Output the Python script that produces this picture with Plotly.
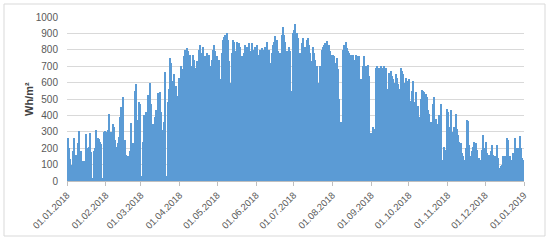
import datetime as dt
import plotly.graph_objects as go

# Daily irradiation values (Wh/m²), 2018, read month by month
jan = [265, 200, 135, 100, 180, 265, 150, 160, 230, 305, 185, 180, 125, 100, 120, 285,
       200, 205, 290, 175, 20, 180, 200, 310, 260, 255, 240, 225, 20, 300, 305]
feb = [300, 310, 410, 290, 300, 345, 330, 250, 210, 230, 270, 390, 450, 515, 240, 250,
       160, 150, 30, 180, 355, 230, 140, 550, 590, 370, 480, 470]
mar = [30, 240, 400, 330, 420, 525, 400, 600, 470, 350, 25, 390, 430, 535, 460, 545,
       420, 310, 360, 665, 30, 480, 560, 750, 720, 610, 655, 500, 580, 520, 630]
apr = [600, 700, 680, 760, 800, 810, 790, 730, 770, 700, 770, 740, 690, 730, 690, 800,
       830, 780, 820, 40, 760, 780, 740, 770, 700, 740, 800, 830, 790, 760]
may = [40, 740, 620, 780, 860, 880, 890, 900, 860, 730, 600, 780, 860, 850, 790, 850,
       840, 840, 820, 760, 40, 780, 830, 820, 800, 840, 790, 840, 800, 740, 820]
jun = [830, 680, 770, 800, 810, 790, 800, 820, 850, 40, 800, 720, 780, 830, 850, 885,
       860, 790, 40, 780, 890, 940, 890, 850, 790, 460, 820, 790, 550, 900]
jul = [920, 960, 900, 870, 360, 780, 840, 870, 40, 820, 860, 875, 830, 780, 730, 820,
       780, 740, 700, 600, 420, 700, 800, 820, 830, 840, 855, 800, 830, 790, 770]
aug = [770, 760, 720, 750, 680, 500, 360, 40, 800, 830, 845, 810, 790, 780, 770, 760,
       770, 740, 770, 760, 720, 760, 620, 420, 700, 760, 700, 690, 710, 640, 290]
sep = [280, 330, 320, 690, 700, 680, 690, 700, 650, 690, 700, 690, 540, 560, 660, 670,
       640, 620, 600, 650, 630, 590, 560, 690, 670, 650, 600, 630, 610, 490]
oct_ = [620, 490, 550, 610, 480, 540, 40, 460, 390, 500, 555, 550, 545, 530, 510, 430,
        410, 360, 350, 470, 515, 380, 260, 350, 400, 470, 30, 130, 210, 190, 440]
nov = [420, 330, 430, 300, 30, 330, 410, 320, 280, 240, 230, 170, 150, 130, 200, 370,
       365, 220, 150, 180, 210, 240, 230, 190, 30, 140, 130, 190, 280, 200]
dec = [240, 170, 130, 160, 180, 220, 160, 150, 110, 220, 140, 80, 90, 100, 150, 150,
       140, 260, 250, 150, 130, 130, 170, 260, 200, 30, 200, 275, 200, 140, 130]

values = jan + feb + mar + apr + may + jun + jul + aug + sep + oct_ + nov + dec
start = dt.datetime(2018, 1, 1)
dates = [start + dt.timedelta(days=i, hours=12) for i in range(len(values))]

tick_dates = [dt.datetime(2018, m, 1) for m in range(1, 13)] + [dt.datetime(2019, 1, 1)]
tick_labels = [d.strftime("%d.%m.%Y") for d in tick_dates]
y_ticks = list(range(0, 1001, 100))

fig = go.Figure(go.Bar(
    x=dates, y=values,
    marker=dict(color="#5B9BD5", line=dict(width=0)),
    width=86400000 * 0.92,
))

L, R, T, B = 67, 26, 17, 61
W, H = 550, 242
pw, ph = W - L - R, H - T - B

fig.update_layout(
    width=W, height=H,
    margin=dict(l=L, r=R, t=T, b=B, autoexpand=False),
    paper_bgcolor="white", plot_bgcolor="white",
    showlegend=False, bargap=0,
    font=dict(family="Liberation Sans", size=10, color="#595959"),
    xaxis=dict(
        type="date", automargin=False,
        range=[dt.datetime(2018, 1, 1), dt.datetime(2019, 1, 1)],
        tickvals=tick_dates, ticktext=tick_labels, tickangle=-45,
        ticks="outside", ticklen=4, tickcolor="#BFBFBF",
        showline=True, linecolor="#BFBFBF", showgrid=False, zeroline=False,
        tickfont=dict(size=9.5, color="#595959"),
    ),
    yaxis=dict(
        range=[0, 1000], tickvals=y_ticks, automargin=False,
        showgrid=True, gridcolor="#D9D9D9", gridwidth=1,
        zeroline=False, showline=False, ticks="",
        ticklabelstandoff=8,
        tickfont=dict(size=10, color="#595959"),
    ),
    annotations=[dict(
        text="<b>Wh/m²</b>", textangle=-90,
        xref="paper", yref="paper",
        x=(29 - L) / pw, y=0.5, xanchor="center", yanchor="middle",
        showarrow=False, font=dict(size=11, color="#404040"),
    )],
    shapes=[dict(
        type="rect", xref="paper", yref="paper",
        x0=(4 - L) / pw, x1=(545 - L) / pw,
        y0=(H - B - 236) / ph, y1=(H - B - 4) / ph,
        line=dict(color="#D9D9D9", width=1), fillcolor="rgba(0,0,0,0)",
        layer="below",
    )],
)

fig.write_html(
    "out.html",
    config={"displayModeBar": False},
    post_script="document.body.style.margin='0';document.body.style.overflow='hidden';",
)
